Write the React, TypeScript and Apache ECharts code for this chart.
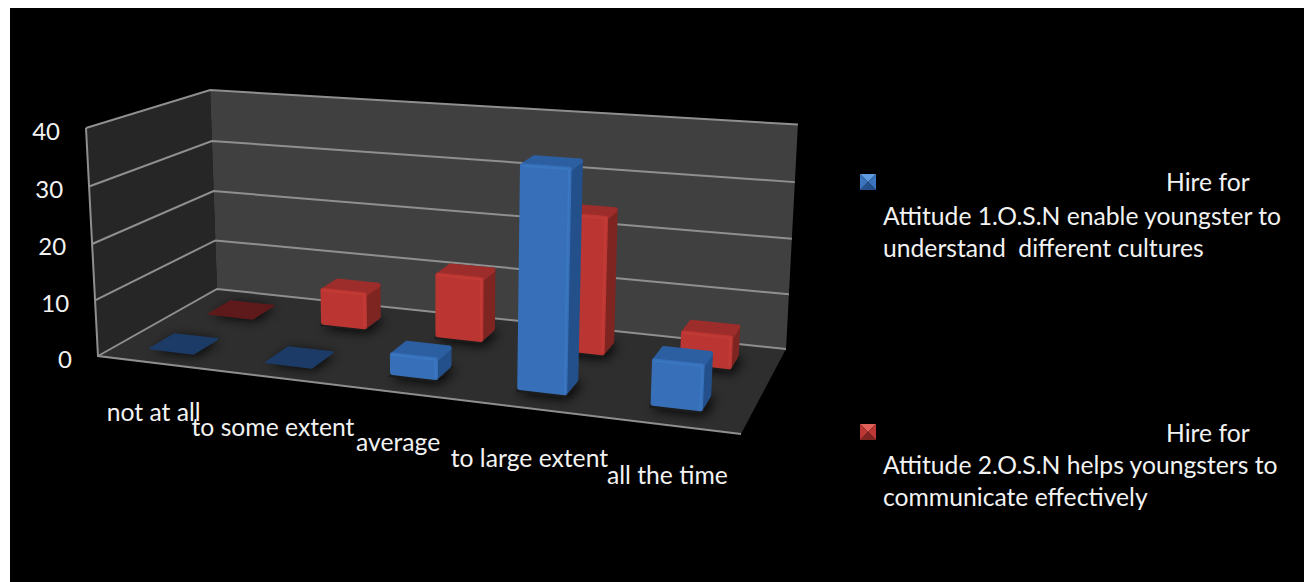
import React, { useEffect, useRef } from "react";
import * as echarts from "echarts";

const categories = ["not at all", "to some extent", "average", "to large extent", "all the time"];
const yTicks = [0, 10, 20, 30, 40];
const seriesOne = [0, 0, 4, 38, 8];
const seriesTwo = [0, 7, 12, 25, 6];
const legendOne = ["Hire for", "Attitude 1.O.S.N enable youngster to", "understand  different cultures"];
const legendTwo = ["Hire for", "Attitude 2.O.S.N helps youngsters to", "communicate effectively"];

const FONT = "Lato, 'Open Sans', sans-serif";
type P = [number, number];

function makeProjection(p0: P, p1: P, p2: P, p3: P, vanish: P, roofFrontLeftY: number) {
  const dx1 = p1[0] - p2[0], dx2 = p3[0] - p2[0], dx3 = p0[0] - p1[0] + p2[0] - p3[0];
  const dy1 = p1[1] - p2[1], dy2 = p3[1] - p2[1], dy3 = p0[1] - p1[1] + p2[1] - p3[1];
  const den = dx1 * dy2 - dx2 * dy1;
  const g = (dx3 * dy2 - dx2 * dy3) / den, h = (dx1 * dy3 - dx3 * dy1) / den;
  const a = p1[0] - p0[0] + g * p1[0], b = p3[0] - p0[0] + h * p3[0], c = p0[0];
  const d = p1[1] - p0[1] + g * p1[1], e = p3[1] - p0[1] + h * p3[1], f = p0[1];
  const k = (roofFrontLeftY - p0[1]) / (vanish[1] - roofFrontLeftY);
  return (u: number, v: number, w: number): P => {
    const q = g * u + h * v + k * w + 1;
    return [
      (a * u + b * v + c + k * vanish[0] * w) / q,
      (d * u + e * v + f + k * vanish[1] * w) / q + v * w * (2.5 - 4.5 * u),
    ];
  };
}
const proj = makeProjection([98, 356], [741, 434], [786, 349], [217, 289], [439, 6830], 128);

const norm = (params: any, api: any) => {
  const cs = params.coordSys;
  const pt = api.coord([api.value(0), api.value(1)]);
  const band = api.size([1, 0])[0];
  return { u: (pt[0] - cs.x) / cs.width, w: (cs.y + cs.height - pt[1]) / cs.height, du: band / cs.width };
};
const poly = (points: P[], style: any) => ({ type: "polygon", shape: { points }, style });

const barFn = (vc: number, shift: number, widen: number, c: any, onlyShadow: boolean) => (params: any, api: any) => {
  const { u, w, du } = norm(params, api);
  const hw = du * widen, hd = 0.1;
  const uc = u + shift;
  const u0o = uc - hw, u1o = uc + hw, v0o = vc - hd, v1o = vc + hd;
  if (onlyShadow) {
    return poly([proj(u0o, v0o, 0), proj(u1o, v0o, 0), proj(u1o, v1o, 0), proj(u0o, v1o, 0)], {
      fill: "#1c1c1c", shadowBlur: 12, shadowColor: "rgba(0,0,0,0.9)", shadowOffsetX: 3, shadowOffsetY: 2,
    });
  }
  if (api.value(1) === 0) {
    return poly([proj(u0o, v0o, 0), proj(u1o, v0o, 0), proj(u1o, v1o, 0), proj(u0o, v1o, 0)], {
      fill: c.flat, stroke: c.flat, lineWidth: 2, lineJoin: "round",
    });
  }
  const u0 = u0o + 0.0037, u1 = u1o - 0.0037, v0 = v0o + 0.025, v1 = v1o - 0.025, b = 0.011, t = w - 0.011;
  const s = (fill: string) => ({ fill, stroke: fill, lineWidth: 5, lineJoin: "round" });
  return {
    type: "group",
    children: [
      poly([proj(u1, v0, b), proj(u1, v1, b), proj(u1, v1, t), proj(u1, v0, t)], s(c.side)),
      poly([proj(u0, v0, t), proj(u1, v0, t), proj(u1, v1, t), proj(u0, v1, t)], s(c.top)),
      poly([proj(u0, v0, b), proj(u1, v0, b), proj(u1, v0, t), proj(u0, v0, t)], s(c.front)),
      {
        type: "polyline",
        shape: { points: [proj(u0, v0, t), proj(u1, v0, t), proj(u1, v0, b)] },
        style: { fill: "none", stroke: c.glow, lineWidth: 2, lineJoin: "round", opacity: 0.55 },
      },
    ],
  };
};

const BLUE = { front: "#3770B9", top: "#2C5FA2", side: "#23508A", flat: "#1C3B66", glow: "#3F7CC8" };
const RED = { front: "#BB3632", top: "#9C2D2A", side: "#7E2522", flat: "#5E1A1A", glow: "#C9403B" };

const legendGraphics = (lines: string[], color: any, my: number, ty: number[]) => {
  const [x0, y0, x1, y1] = [860, my, 876, my + 16];
  const cx = (x0 + x1) / 2, cy = (y0 + y1) / 2;
  const tri = (a: P, b: P, fill: string) => ({ type: "polygon", shape: { points: [a, b, [cx, cy]] }, style: { fill } });
  return [
    tri([x0, y0], [x1, y0], color.light),
    tri([x1, y0], [x1, y1], color.front),
    tri([x1, y1], [x0, y1], color.side),
    tri([x0, y1], [x0, y0], color.front),
    ...lines.map((t, i) => ({
      type: "text",
      x: i === 0 ? 1166 : 883,
      y: ty[i],
      style: { text: t, fill: "#F2F2F2", font: `24.7px ${FONT}`, textVerticalAlign: "middle", textBaseline: "middle" },
    })),
  ];
};

export default function App() {
  const ref = useRef<HTMLDivElement>(null);
  useEffect(() => {
    const chart = echarts.init(ref.current!, undefined, { renderer: "svg" });
    const gridRows = yTicks.map((v) => [0, v]);
    const catRows = categories.map((_, i) => [i, 0]);
    const commonAxis = { silent: true };
    chart.setOption({
      animation: false,
      backgroundColor: "#FFFFFF",
      grid: { left: 100, right: 500, top: 100, bottom: 200 },
      xAxis: { type: "category", data: categories, show: false },
      yAxis: { type: "value", min: 0, max: 40, interval: 10, show: false, splitLine: { show: false } },
      graphic: [
        { type: "rect", z: -1, shape: { x: 10, y: 8, width: 1294, height: 574 }, style: { fill: "#000" } },
        ...legendGraphics(legendOne, { light: "#5E9BE0", front: "#3A74BE", side: "#24518C" }, 174, [181, 215, 247]),
        ...legendGraphics(legendTwo, { light: "#E0605A", front: "#BC3733", side: "#7E2522" }, 424, [432, 464, 496]),
      ],
      series: [
        {
          type: "custom", name: "walls", ...commonAxis, z: 1, data: [[0, 0]], encode: { x: 0, y: 1 },
          renderItem: () => ({
            type: "group",
            children: [
              poly([proj(0, 0, 0), proj(0, 1, 0), proj(0, 1, 1), proj(0, 0, 1)], { fill: "#262626" }),
              poly([proj(0, 1, 0), proj(1, 1, 0), proj(1, 1, 1), proj(0, 1, 1)], { fill: "#404040" }),
              poly([proj(0, 0, 0), proj(1, 0, 0), proj(1, 1, 0), proj(0, 1, 0)], { fill: "#2E2E2E" }),
            ],
          }),
        },
        {
          type: "custom", name: "gridlines", ...commonAxis, z: 2, data: gridRows, encode: { x: 0, y: 1 },
          renderItem: (params: any, api: any) => {
            const { w } = norm(params, api);
            return {
              type: "polyline",
              shape: { points: [proj(0, 0, w), proj(0, 1, w), proj(1, 1, w)] },
              style: { fill: "none", stroke: "#8F8F8F", lineWidth: 2 },
            };
          },
        },
        {
          type: "custom", name: "edges", ...commonAxis, z: 2, data: [[0, 0]], encode: { x: 0, y: 1 },
          renderItem: () => ({
            type: "polyline",
            shape: { points: [proj(1, 0, 0), proj(0, 0, 0), proj(0, 0, 1)] },
            style: { fill: "none", stroke: "#8F8F8F", lineWidth: 2 },
          }),
        },
        {
          type: "custom", name: "Shadow 2", ...commonAxis, z: 3, data: catRows, encode: { x: 0, y: 1 },
          renderItem: barFn(0.75, -0.003, 0.2, RED, true),
        },
        {
          type: "custom", name: "Shadow 1", ...commonAxis, z: 3, data: catRows, encode: { x: 0, y: 1 },
          renderItem: barFn(0.25, -0.005, 0.19, BLUE, true),
        },
        {
          type: "custom", name: legendTwo.join(" "), ...commonAxis, z: 4,
          data: seriesTwo.map((v, i) => [i, v]), encode: { x: 0, y: 1 },
          renderItem: barFn(0.75, -0.003, 0.2, RED, false),
        },
        {
          type: "custom", name: legendOne.join(" "), ...commonAxis, z: 5,
          data: seriesOne.map((v, i) => [i, v]), encode: { x: 0, y: 1 },
          renderItem: barFn(0.25, -0.005, 0.19, BLUE, false),
        },
        {
          type: "custom", name: "y labels", ...commonAxis, z: 6, data: gridRows, encode: { x: 0, y: 1 },
          renderItem: (params: any, api: any) => {
            const { w } = norm(params, api);
            const p = proj(0, 0, w);
            return {
              type: "text", x: p[0] - 26, y: p[1] + 2,
              style: { text: String(api.value(1)), fill: "#F2F2F2", font: `24px ${FONT}`, textAlign: "right", textVerticalAlign: "middle", textBaseline: "middle" },
            };
          },
        },
        {
          type: "custom", name: "x labels", ...commonAxis, z: 6, data: catRows, encode: { x: 0, y: 1 },
          renderItem: (params: any, api: any) => {
            const { u } = norm(params, api);
            const p = proj(u, 0, 0);
            return {
              type: "text", x: p[0] - 2, y: p[1] + 49,
              style: { text: categories[api.value(0)], fill: "#F2F2F2", font: `24.7px ${FONT}`, textAlign: "center", textVerticalAlign: "middle", textBaseline: "middle" },
            };
          },
        },
      ],
    });
    return () => chart.dispose();
  }, []);
  return <div ref={ref} style={{ position: "fixed", left: 0, top: 0, width: 1304, height: 582 }} />;
}
